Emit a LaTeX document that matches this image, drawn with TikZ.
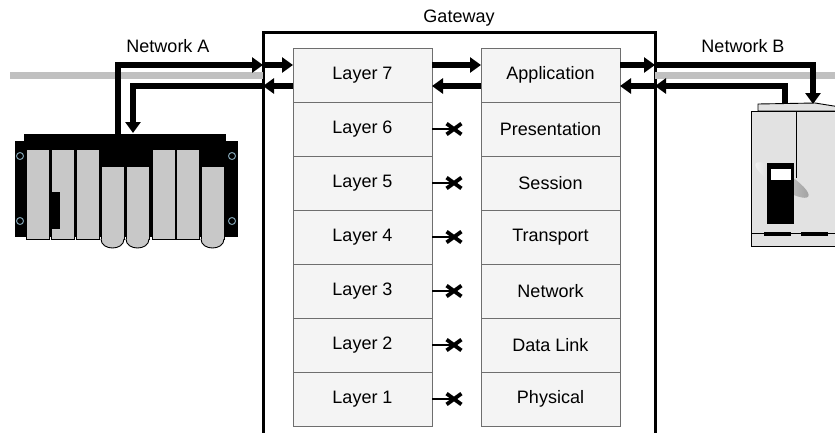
\documentclass[tikz,border=0pt]{standalone}
\usepackage{fontspec}
\setmainfont{Liberation Sans}
\usetikzlibrary{positioning,arrows.meta,shapes.misc}
\definecolor{grisBus}{HTML}{C0C0C0}
\definecolor{grisCase}{HTML}{F4F4F4}
\definecolor{grisTrait}{HTML}{6E6E6E}
\definecolor{grisModule}{HTML}{C8C8C8}
\definecolor{grisCaisson}{HTML}{E2E2E2}
\definecolor{bleuTrou}{HTML}{7F9FAF}
\tikzset{
  couche/.style={
    rectangle, draw=grisTrait, fill=grisCase, line width=0.9pt,
    minimum width=139pt, minimum height=54pt, inner sep=0pt, outer sep=0pt,
    font=\fontsize{18}{21}\selectfont},
  passerelle/.style={rectangle, draw=black, line width=3pt, inner sep=0pt, outer sep=0pt},
  texte/.style={font=\fontsize{18}{21}\selectfont, inner sep=0pt},
  fleche/.style={-{Triangle[length=11pt,width=15pt]}, line width=6pt},
  bus/.style={draw=grisBus, line width=7pt},
  coupe/.style={line width=2pt},
  croix/.style={cross out, draw, line width=3.8pt, minimum width=11pt,
    minimum height=7pt, inner sep=0pt},
  module/.style={draw=black, fill=grisModule, line width=0.9pt},
  trou/.style={draw=bleuTrou, line width=1pt},
  caisson/.style={draw=black, fill=grisCaisson, line width=0.9pt}
}

\begin{document}
\begin{tikzpicture}[x=1pt, y=-1pt]
  \useasboundingbox (0,0) rectangle (835,432);
  \clip (0,0) rectangle (835,432);

  % --- Passerelle et les deux piles de couches
  \node[passerelle, anchor=north west, minimum width=392pt, minimum height=440pt]
    (gw) at (263,32) {};
  \node[texte, above=6pt of gw.north] (titre) {Gateway};

  \node[couche] (l7) at (362.5,75) {Layer 7};
  \node[couche, below=0pt of l7] (l6) {Layer 6};
  \node[couche, below=0pt of l6] (l5) {Layer 5};
  \node[couche, below=0pt of l5] (l4) {Layer 4};
  \node[couche, below=0pt of l4] (l3) {Layer 3};
  \node[couche, below=0pt of l3] (l2) {Layer 2};
  \node[couche, below=0pt of l2] (l1) {Layer 1};

  \node[couche, right=49pt of l7] (app) {Application};
  \node[couche, below=0pt of app] (pres) {Presentation};
  \node[couche, below=0pt of pres] (sess) {Session};
  \node[couche, below=0pt of sess] (trans) {Transport};
  \node[couche, below=0pt of trans] (res) {Network};
  \node[couche, below=0pt of res] (liai) {Data Link};
  \node[couche, below=0pt of liai] (phys) {Physical};

  % couches basses : pas de passage
  \foreach \c in {l6,l5,l4,l3,l2,l1}
    \draw[coupe] (\c.east) -- ++(22,0) node[croix] (x\c) {};

  % --- Bus des reseaux
  \coordinate (busA) at (10,75);
  \coordinate (busB) at (835,75);
  \draw[bus] (busA) -- (gw.west |- busA);
  \draw[bus] (gw.east |- busB) -- (busB);
  \node[texte] (resA) at (168,46) {Network A};
  \node[texte] (resB) at (743,46) {Network B};

  % --- Automate (reseau A)
  \fill[black] (24,134) rectangle (226,141);
  \fill[black] (15,141) rectangle (238,237);
  \foreach \y in {156,221} {
    \draw[trou] (20,\y) circle[radius=3.5pt];
    \draw[trou] (232,\y) circle[radius=3.5pt];
  }
  \foreach \x/\t in {26/149, 51/149, 76/149, 101/166, 126/166, 152/149, 176/149, 201/166}
    \draw[module] (\x,\t) rectangle (\x+23,239);
  \foreach \x in {101,126,201}
    \draw[module] (\x,239) .. controls (\x,251) and (\x+23,251) .. (\x+23,239);
  \fill[black] (52,192) rectangle (60,229);

  % --- Variateur (reseau B)
  \draw[caisson] (758,111) -- (758,104) -- (815,103) -- (840,107) -- (840,111) -- cycle;
  \draw[caisson] (751,111) rectangle (845,246);
  \draw[line width=0.9pt] (751,233) -- (845,233);
  \fill[black] (764,232) rectangle (791,236);
  \fill[black] (801,232) rectangle (828,236);
  \shade[left color=grisCaisson!40, right color=gray!75, rotate around={-32:(782,180)}]
    (782,180) ellipse[x radius=31, y radius=8];
  \draw[line width=0.9pt] (796,111) -- (796,178);
  \fill[black] (767,163) rectangle (794,224);
  \fill[white] (771,169) rectangle (791,180);

  % --- Trajets des trames
  \coordinate (voieHaut) at (0,65);
  \coordinate (voieBas) at (0,86);
  \coordinate (plcSortie) at (118,134);
  \coordinate (plcEntree) at (133,133);
  \coordinate (varEntree) at (813,104);
  \coordinate (varSortie) at (785,103);

  \draw[fleche] (plcSortie) |- (gw.west |- voieHaut);
  \draw[fleche] (gw.west |- voieBas) -| (plcEntree);
  \draw[fleche] (gw.west |- voieHaut) -- (l7.west |- voieHaut);
  \draw[fleche] (l7.west |- voieBas) -- (gw.west |- voieBas);

  \draw[fleche] (l7.east |- voieHaut) -- (app.west |- voieHaut);
  \draw[fleche] (app.west |- voieBas) -- (l7.east |- voieBas);

  \draw[fleche] (app.east |- voieHaut) -- (gw.east |- voieHaut);
  \draw[fleche] (gw.east |- voieBas) -- (app.east |- voieBas);
  \draw[fleche] (gw.east |- voieHaut) -| (varEntree);
  \draw[fleche] (varSortie) |- (gw.east |- voieBas);

\end{tikzpicture}
\end{document}
